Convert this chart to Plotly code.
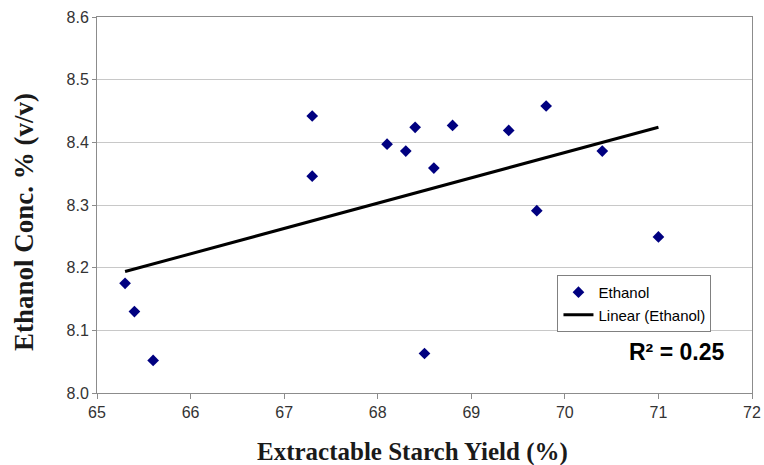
import numpy as np
import plotly.graph_objects as go

starch_yield = [65.3, 65.4, 65.6, 67.3, 67.3, 68.1, 68.3, 68.4, 68.5, 68.6, 68.8, 69.4, 69.7, 69.8, 70.4, 71.0]
ethanol = [8.175, 8.130, 8.052, 8.442, 8.346, 8.397, 8.386, 8.424, 8.063, 8.359, 8.427, 8.419, 8.291, 8.458, 8.386, 8.249]
x_ticks = [65, 66, 67, 68, 69, 70, 71, 72]
y_ticks = [8.0, 8.1, 8.2, 8.3, 8.4, 8.5, 8.6]
x_title = "Extractable Starch Yield (%)"
y_title = "Ethanol Conc. % (v/v)"

slope, intercept = np.polyfit(starch_yield, ethanol, 1)
trend_x = [min(starch_yield), max(starch_yield)]
trend_y = [slope * v + intercept for v in trend_x]

fig = go.Figure()
fig.add_trace(go.Scatter(
    x=starch_yield, y=ethanol, mode="markers", name="Ethanol",
    marker=dict(symbol="diamond", color="#000080", size=9, line=dict(width=0)),
))
fig.add_trace(go.Scatter(
    x=trend_x, y=trend_y, mode="lines", name="Linear (Ethanol)",
    line=dict(color="black", width=3),
))

plot_l, plot_r, plot_t, plot_b = 97, 764 - 12, 17, 465 - 72
pw, ph = plot_r - plot_l, plot_b - plot_t

fig.add_annotation(
    x=0.961, y=0.108, xref="paper", yref="paper", xanchor="right", yanchor="middle",
    text="<b>R² = 0.25</b>", showarrow=False,
    font=dict(family="Liberation Sans, Arial", size=23, color="black"),
)
# axis titles placed as annotations for exact positioning
fig.add_annotation(
    x=(412 - plot_l) / pw, y=(plot_b - 452) / ph, xref="paper", yref="paper",
    xanchor="center", yanchor="middle",
    text=f"<b>{x_title}</b>", showarrow=False,
    font=dict(family="Liberation Serif, Times New Roman", size=25, color="#1a1a1a"),
)
fig.add_annotation(
    x=(24 - plot_l) / pw, y=(plot_b - 222) / ph, xref="paper", yref="paper",
    xanchor="center", yanchor="middle",
    text=f"<b>{y_title}</b>", showarrow=False, textangle=-90,
    font=dict(family="Liberation Serif, Times New Roman", size=27, color="#1a1a1a"),
)

fig.update_layout(
    width=764, height=465,
    margin=dict(l=plot_l, r=764 - plot_r, t=plot_t, b=465 - plot_b, autoexpand=False),
    paper_bgcolor="white", plot_bgcolor="white",
    showlegend=True,
    legend=dict(
        x=0.703, y=0.314, xanchor="left", yanchor="top",
        bordercolor="#808080", borderwidth=1, bgcolor="white",
        font=dict(family="Liberation Sans, Arial", size=15, color="black"),
        itemwidth=30, tracegroupgap=0,
    ),
    xaxis=dict(
        range=[65, 72], tickvals=x_ticks, ticktext=[str(v) for v in x_ticks],
        showgrid=False, zeroline=False, automargin=False,
        showline=True, linecolor="#8c8c8c", linewidth=1, mirror=True,
        ticks="outside", ticklen=5, tickcolor="#8c8c8c",
        tickfont=dict(family="Liberation Sans, Arial", size=16, color="#333333"),
    ),
    yaxis=dict(
        range=[8.0, 8.6], tickvals=y_ticks, ticktext=[f"{v:.1f}" for v in y_ticks],
        showgrid=True, gridcolor="#c8c8c8", gridwidth=1, zeroline=False, automargin=False,
        showline=True, linecolor="#8c8c8c", linewidth=1, mirror=True,
        ticks="outside", ticklen=4, tickcolor="#8c8c8c",
        tickfont=dict(family="Liberation Sans, Arial", size=16, color="#333333"),
    ),
)

fig.write_html("out.html")
